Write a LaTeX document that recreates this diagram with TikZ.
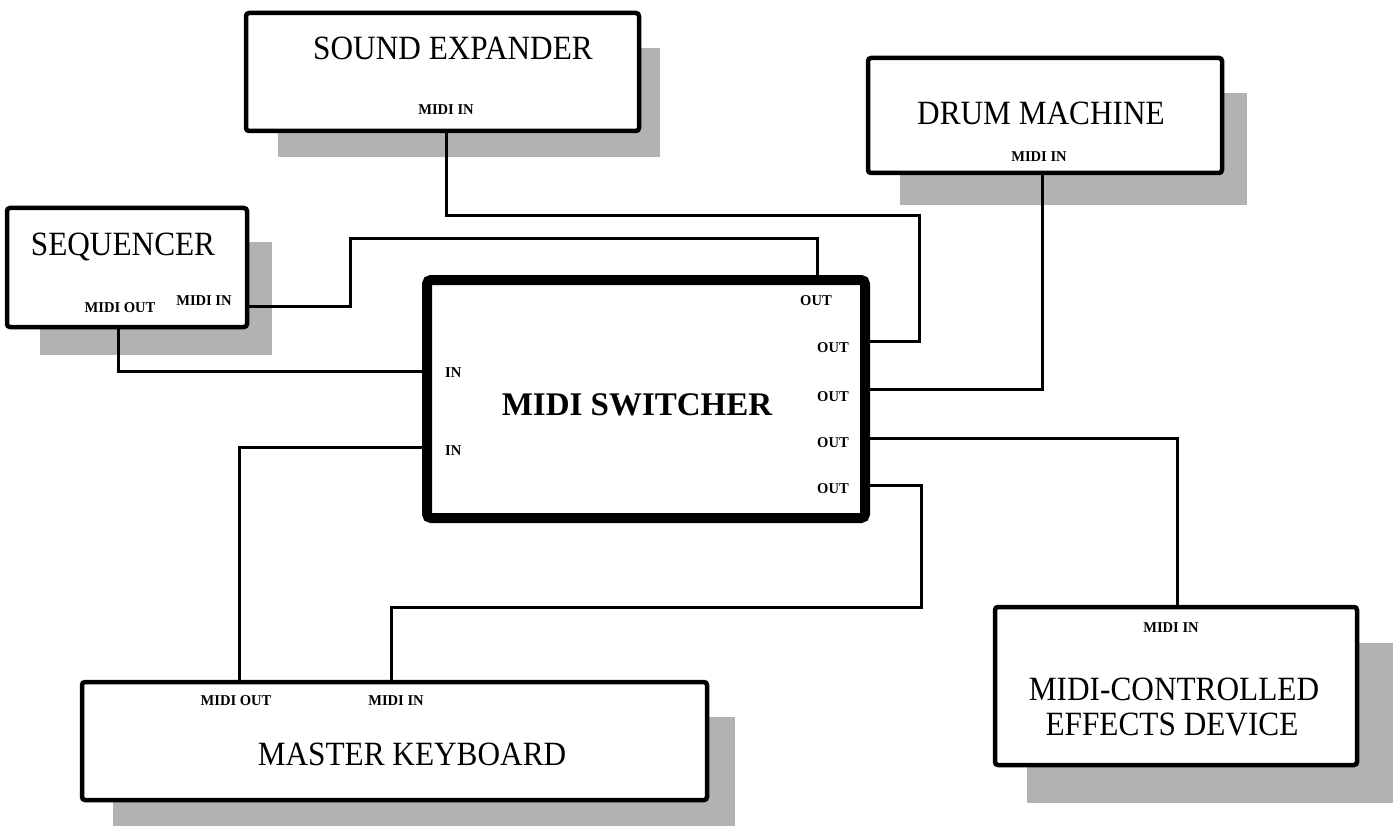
\documentclass[tikz,border=0pt]{standalone}
\usepackage{fontspec}
\setmainfont{Liberation Serif}
\newfontfamily\ttlfont[FakeStretch=0.92]{Liberation Serif}
\newfontfamily\lblfont[FakeStretch=0.97]{Liberation Serif Bold}
\newfontfamily\swfont{Liberation Serif Bold}
\begin{document}
\begin{tikzpicture}[x=1pt,y=-1pt,
  box/.style={draw=black, fill=white, line width=4.5pt, rounded corners=3pt, inner sep=0pt, outer sep=0pt},
  swbox/.style={draw=black, fill=white, line width=10pt, rounded corners=4pt, inner sep=0pt, outer sep=0pt},
  shade/.style={fill=black!30},
  wire/.style={draw=black, line width=3pt},
  ttl/.style={anchor=base, inner sep=0pt, font=\ttlfont\fontsize{34}{38}\selectfont},
  lbl/.style={anchor=base, inner sep=0pt, font=\lblfont\fontsize{15}{17}\selectfont},
  lblw/.style={anchor=base west, inner sep=0pt, font=\lblfont\fontsize{15}{17}\selectfont}]
\useasboundingbox (0,0) rectangle (1399,826);
\fill[white] (0,0) rectangle (1399,826);
% shadows
\fill[shade] (278,48) rectangle (660,157);
\fill[shade] (900,93) rectangle (1247,205);
\fill[shade] (40,242) rectangle (272,355);
\fill[shade] (113,717) rectangle (735,826);
\fill[shade] (1027,643) rectangle (1393,803);
% boxes
\node[box, minimum width=393pt, minimum height=118pt] (se) at (442.5,72) {};
\node[box, minimum width=354pt, minimum height=115pt] (dm) at (1045,115.5) {};
\node[box, minimum width=240pt, minimum height=119pt] (seq) at (127,267.5) {};
\node[box, minimum width=625pt, minimum height=118pt] (kb) at (394.5,741) {};
\node[box, minimum width=362pt, minimum height=158pt] (fx) at (1176,686) {};
\node[swbox, minimum width=438pt, minimum height=238pt] (sw) at (646,399) {};
% connectors
\draw[wire] (seq.east |- 0,306) -- (350,306) |- (817,239) -- (sw.north -| 817,0);
\draw[wire] (seq.south -| 118,0) |- (sw.west |- 0,371);
\draw[wire] (kb.north -| 239,0) |- (sw.west |- 0,447);
\draw[wire] (sw.east |- 0,341) -| (919,216) -| (se.south -| 446,0);
\draw[wire] (sw.east |- 0,389) -| (dm.south -| 1042,0);
\draw[wire] (sw.east |- 0,438) -| (fx.north -| 1177,0);
\draw[wire] (sw.east |- 0,485) -| (921,607) -| (kb.north -| 391,0);
% texts
\node[ttl] (t-se) at (453,60) {SOUND EXPANDER};
\node[lbl] (l-se) at (446,115) {MIDI IN};
\node[ttl] (t-dm) at (1041,125) {DRUM MACHINE};
\node[lbl] (l-dm) at (1039,162) {MIDI IN};
\node[ttl] (t-seq) at (123,255) {SEQUENCER};
\node[lbl] (l-seqo) at (120,312) {MIDI OUT};
\node[lbl] (l-seqi) at (204,305) {MIDI IN};
\node[anchor=base, inner sep=0pt, font=\swfont\fontsize{33}{38}\selectfont] (t-sw) at (637,415) {MIDI SWITCHER};
\node[lblw] (in1) at (445,377) {IN};
\node[lblw] (in2) at (445,455) {IN};
\node[lblw] (o1) at (800,305) {OUT};
\node[lblw] (o2) at (817,352) {OUT};
\node[lblw] (o3) at (817,401) {OUT};
\node[lblw] (o4) at (817,447) {OUT};
\node[lblw] (o5) at (817,493) {OUT};
\node[lbl] (l-kbo) at (236,705) {MIDI OUT};
\node[lbl] (l-kbi) at (396,705) {MIDI IN};
\node[ttl] (t-kb) at (412,765) {MASTER KEYBOARD};
\node[lbl] (l-fx) at (1171,632) {MIDI IN};
\node[ttl] (t-fx1) at (1174,700) {MIDI-CONTROLLED};
\node[ttl] (t-fx2) at (1172,735) {EFFECTS DEVICE};
\end{tikzpicture}
\end{document}
